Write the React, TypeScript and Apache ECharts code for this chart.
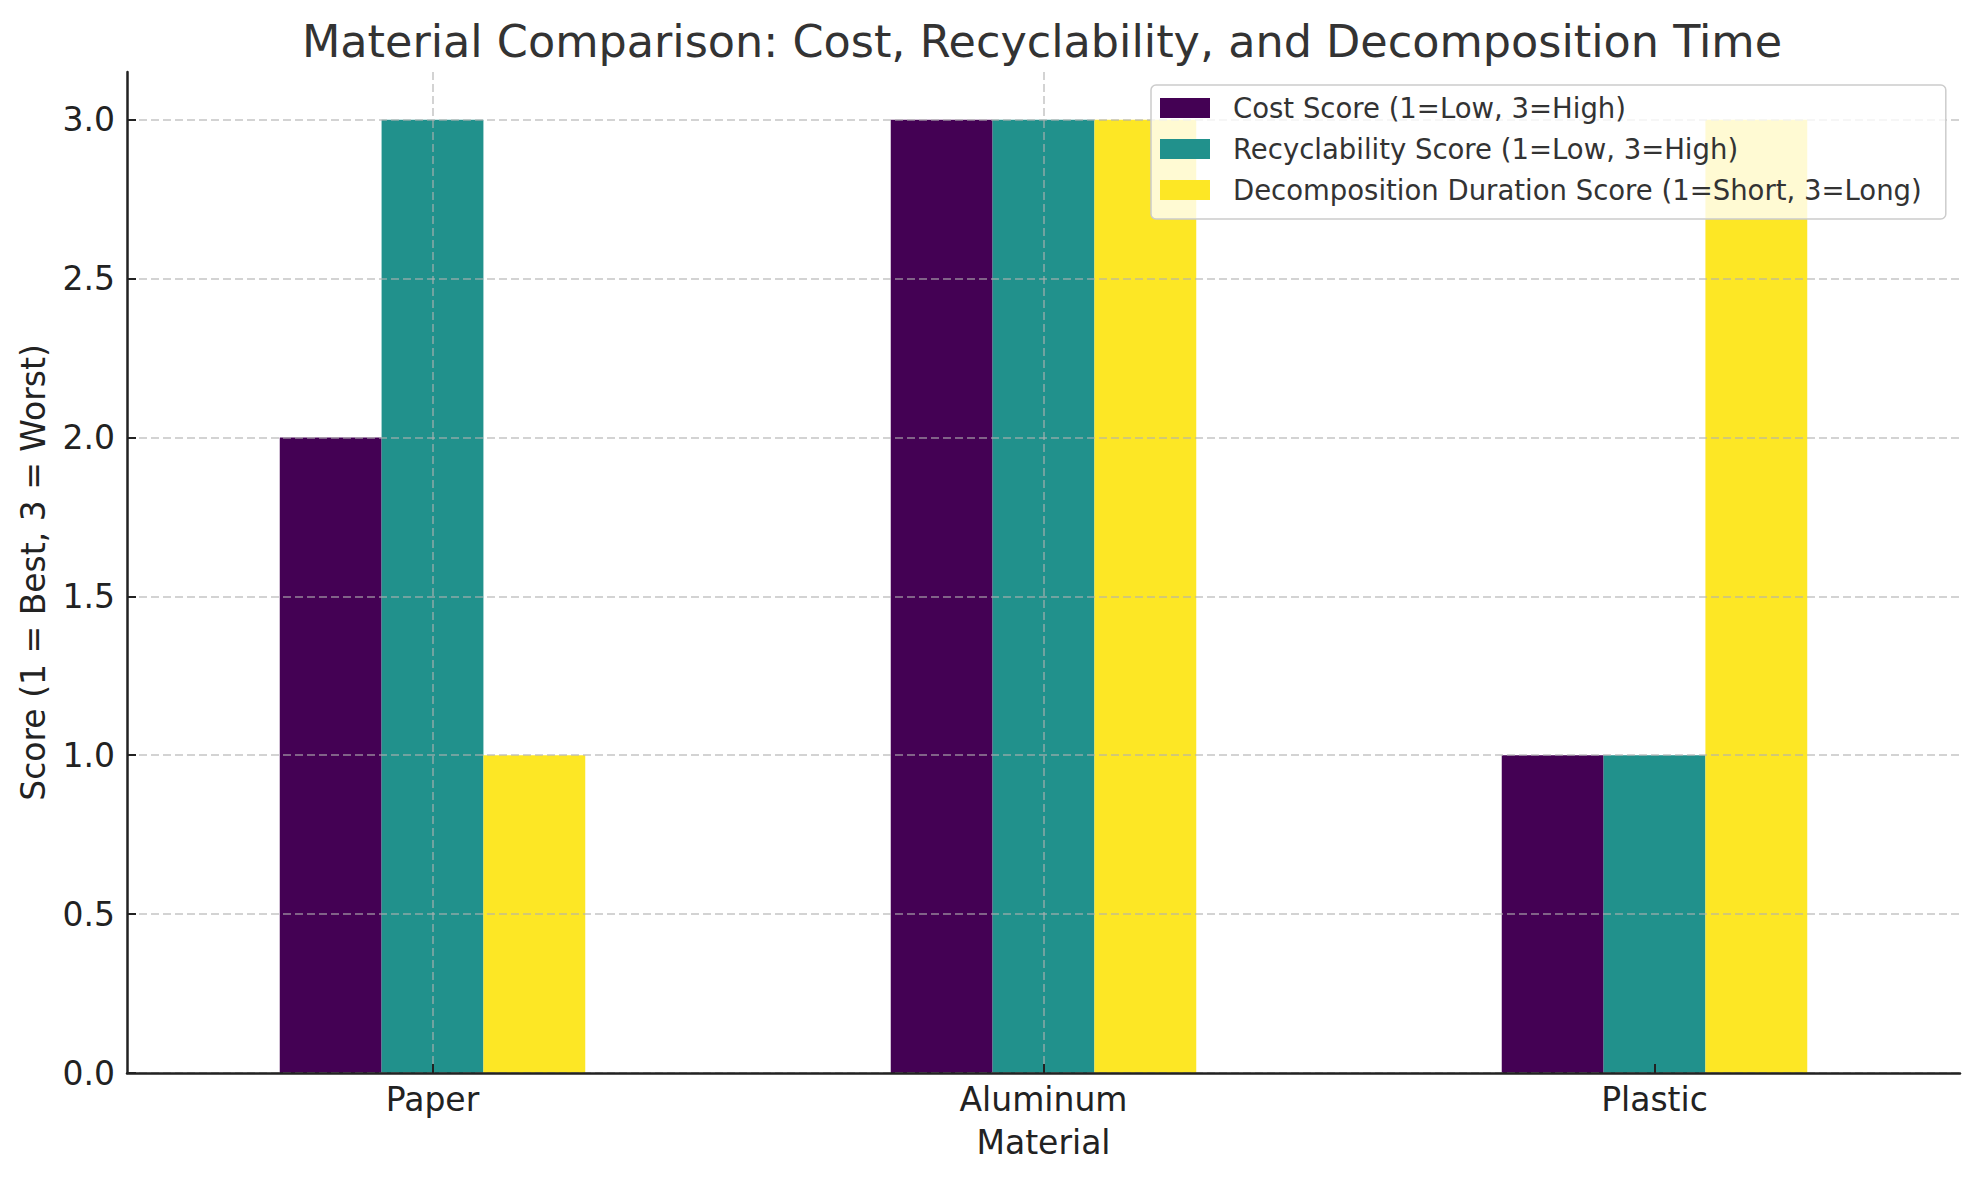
import React, { useEffect, useRef } from "react";
import * as echarts from "echarts";

const categories = ["Paper", "Aluminum", "Plastic"];
const costScore = [2, 3, 1];
const recyclabilityScore = [3, 3, 1];
const decompositionScore = [1, 3, 3];
const seriesNames = [
  "Cost Score (1=Low, 3=High)",
  "Recyclability Score (1=Low, 3=High)",
  "Decomposition Duration Score (1=Short, 3=Long)",
];
const colors = ["#440154", "#21918c", "#fde725"];

export default function App() {
  const ref = useRef<HTMLDivElement>(null);
  useEffect(() => {
    if (!ref.current) return;
    const chart = echarts.init(ref.current, undefined, { renderer: "svg" });
    const font = "DejaVu Sans";
    const gridLine = {
      show: true,
      showMaxLine: false,
      lineStyle: { color: "rgba(176,176,176,0.75)", width: 1.5, type: [8, 4] as any },
    };
    const values = [costScore, recyclabilityScore, decompositionScore];
    chart.setOption({
      animation: false,
      backgroundColor: "#ffffff",
      title: {
        text: "Material Comparison: Cost, Recyclability, and Decomposition Time",
        left: 1037,
        textAlign: "center",
        top: 14,
        textStyle: { fontFamily: font, fontSize: 44.5, fontWeight: "normal", color: "#333333" },
      },
      legend: {
        left: 1151,
        top: 85,
        orient: "vertical",
        itemWidth: 50,
        itemHeight: 20,
        itemGap: 13,
        padding: [9, 24, 15, 9],
        backgroundColor: "rgba(255,255,255,0.8)",
        borderColor: "#cccccc",
        borderWidth: 1.5,
        borderRadius: 5,
        icon: "rect",
        textStyle: { fontFamily: font, fontSize: 27.5, color: "#333333", padding: [0, 0, 0, 18] },
        z: 10,
      },
      grid: { left: 127, right: 19, top: 72, bottom: 107 },
      xAxis: {
        type: "category",
        data: categories,
        name: "Material",
        nameLocation: "middle",
        nameGap: 53,
        nameTextStyle: { fontFamily: font, fontSize: 33, color: "#222222" },
        axisLine: { show: true, lineStyle: { color: "#222222", width: 2.5 } },
        axisTick: { show: true, alignWithLabel: true, inside: true, length: 9, lineStyle: { color: "#222222", width: 2 } },
        axisLabel: { fontFamily: font, fontSize: 33, color: "#222222", margin: 10 },
        splitLine: { ...gridLine, alignWithLabel: true },
        z: 5,
      },
      yAxis: {
        type: "value",
        min: 0,
        max: 3.15,
        interval: 0.5,
        name: "Score (1 = Best, 3 = Worst)",
        nameLocation: "middle",
        nameGap: 77,
        nameRotate: 90,
        nameTextStyle: { fontFamily: font, fontSize: 33, color: "#222222" },
        axisLine: { show: true, lineStyle: { color: "#222222", width: 2.5 } },
        axisTick: { show: true, inside: true, length: 9, lineStyle: { color: "#222222", width: 2 } },
        axisLabel: {
          fontFamily: font,
          fontSize: 33,
          color: "#222222",
          margin: 12,
          showMaxLabel: false,
          formatter: (v: number) => (v > 3.01 ? "" : v.toFixed(1)),
        },
        splitLine: gridLine,
        z: 5,
      },
      series: values.map((d, i) => ({
        type: "bar",
        name: seriesNames[i],
        data: d,
        barGap: "0%",
        barCategoryGap: "50%",
        itemStyle: { color: colors[i] },
        z: 2,
      })),
    });
    return () => chart.dispose();
  }, []);
  return (
    <div
      ref={ref}
      style={{ position: "fixed", left: 0, top: 0, width: 1979, height: 1180 }}
    />
  );
}
